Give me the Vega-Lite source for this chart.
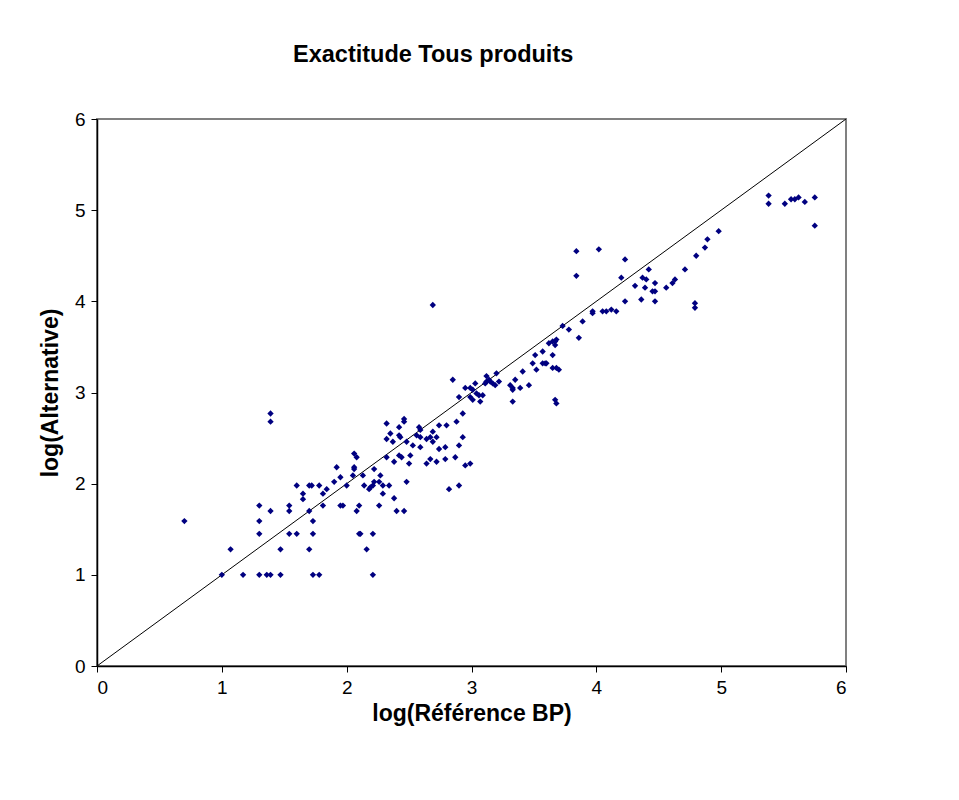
{
  "$schema": "https://vega.github.io/schema/vega-lite/v6.json",
  "autosize": {"type": "none"},
  "padding": {"left": 97, "top": 119, "right": 113, "bottom": 134},
  "width": 749,
  "height": 547,
  "background": "white",
  "title": {
    "text": "Exactitude Tous produits",
    "anchor": "start",
    "frame": "group",
    "dx": 196,
    "offset": 25,
    "baseline": "alphabetic",
    "font": "Liberation Sans",
    "fontSize": 23.5,
    "fontWeight": "bold",
    "color": "black"
  },
  "config": {
    "view": {"stroke": "#808080", "strokeWidth": 2},
    "axis": {
      "domainColor": "black",
      "domainWidth": 1.5,
      "tickColor": "black",
      "tickWidth": 1,
      "tickSize": 6,
      "grid": false,
      "labelFont": "Liberation Sans",
      "labelFontSize": 19,
      "labelColor": "black",
      "titleFont": "Liberation Sans",
      "titleFontSize": 23,
      "titleFontWeight": "bold",
      "titleColor": "black"
    }
  },
  "datasets": {
    "pts": [
      {"x":1.39,"y":2.77},{"x":1.39,"y":2.68},{"x":0.70,"y":1.59},{"x":1.00,"y":1.00},{"x":1.07,"y":1.28},{"x":1.17,"y":1.00},{"x":1.30,"y":1.76},{"x":1.30,"y":1.59},{"x":1.30,"y":1.45},{"x":1.30,"y":1.00},{"x":1.36,"y":1.00},{"x":1.39,"y":1.00},{"x":1.39,"y":1.70},{"x":1.47,"y":1.00},{"x":1.47,"y":1.28},{"x":1.54,"y":1.76},{"x":1.54,"y":1.70},{"x":1.54,"y":1.45},{"x":1.60,"y":1.98},{"x":1.60,"y":1.45},{"x":1.65,"y":1.89},{"x":1.65,"y":1.83},{"x":1.70,"y":1.98},{"x":1.72,"y":1.98},{"x":1.70,"y":1.70},{"x":1.70,"y":1.28},{"x":1.73,"y":1.59},{"x":1.73,"y":1.45},{"x":1.73,"y":1.00},{"x":1.78,"y":1.00},{"x":1.78,"y":1.98},{"x":1.81,"y":1.89},{"x":1.84,"y":1.94},{"x":1.81,"y":1.76},{"x":1.92,"y":2.18},{"x":1.90,"y":2.02},{"x":1.95,"y":2.07},{"x":1.95,"y":1.76},{"x":1.97,"y":1.76},{"x":2.00,"y":1.98},{"x":2.05,"y":2.09},{"x":2.06,"y":2.33},{"x":2.08,"y":2.29},{"x":2.06,"y":2.18},{"x":2.06,"y":2.16},{"x":2.08,"y":1.70},{"x":2.10,"y":1.45},{"x":2.10,"y":1.76},
      {"x":2.69,"y":3.96},{"x":2.13,"y":2.09},{"x":2.14,"y":1.98},{"x":2.18,"y":1.94},{"x":2.19,"y":1.96},{"x":2.22,"y":2.16},{"x":2.22,"y":2.02},{"x":2.26,"y":2.02},{"x":2.27,"y":2.09},{"x":2.21,"y":1.98},{"x":2.29,"y":1.98},{"x":2.29,"y":1.89},{"x":2.34,"y":1.98},{"x":2.32,"y":2.66},{"x":2.32,"y":2.49},{"x":2.32,"y":2.29},{"x":2.35,"y":2.55},{"x":2.37,"y":2.46},{"x":2.38,"y":2.24},{"x":2.38,"y":1.84},{"x":2.42,"y":2.62},{"x":2.42,"y":2.53},{"x":2.43,"y":2.51},{"x":2.42,"y":2.31},{"x":2.44,"y":2.29},{"x":2.46,"y":2.71},{"x":2.46,"y":2.68},{"x":2.48,"y":2.46},{"x":2.48,"y":2.02},{"x":2.50,"y":2.22},{"x":2.51,"y":2.31},{"x":2.53,"y":2.42},{"x":2.56,"y":2.53},{"x":2.58,"y":2.62},{"x":2.59,"y":2.59},{"x":2.59,"y":2.51},{"x":2.59,"y":2.40},{"x":2.64,"y":2.49},{"x":2.64,"y":2.22},{"x":2.67,"y":2.51},{"x":2.67,"y":2.27},{"x":2.69,"y":2.57},{"x":2.69,"y":2.46},{"x":2.72,"y":2.51},{"x":2.72,"y":2.24},{"x":2.74,"y":2.64},{"x":2.74,"y":2.38},{"x":2.79,"y":2.40},{"x":2.79,"y":2.27},{"x":2.80,"y":2.64},{"x":2.82,"y":1.94},{"x":2.85,"y":3.14},{"x":2.87,"y":2.29},{"x":2.88,"y":2.68},{"x":2.90,"y":2.95},{"x":2.90,"y":2.42},{"x":2.90,"y":1.98},{"x":2.93,"y":2.77},{"x":2.93,"y":2.51},{"x":2.95,"y":3.05},{"x":2.95,"y":2.20},{"x":2.99,"y":2.22},{"x":2.99,"y":3.05},{"x":3.01,"y":3.03},{"x":2.99,"y":2.95},{"x":3.01,"y":2.92},{"x":3.03,"y":3.10},{"x":3.04,"y":2.99},{"x":3.06,"y":2.97},{"x":3.07,"y":2.90},{"x":3.09,"y":2.97},{"x":3.11,"y":3.10},{"x":3.12,"y":3.18},{"x":3.14,"y":3.14},{"x":3.12,"y":3.12},{"x":3.15,"y":3.12},{"x":3.17,"y":3.10},{"x":3.19,"y":3.08},{"x":3.20,"y":3.21},{"x":3.22,"y":3.12},{"x":3.31,"y":3.08},{"x":3.33,"y":3.05},{"x":3.33,"y":3.03},{"x":3.33,"y":2.90},{"x":3.35,"y":3.14},{"x":3.39,"y":3.05},{"x":3.41,"y":3.23},{"x":3.46,"y":3.08},
      {"x":3.84,"y":4.55},{"x":4.02,"y":4.57},{"x":3.84,"y":4.28},{"x":4.23,"y":4.46},{"x":4.80,"y":4.50},{"x":4.71,"y":4.35},{"x":4.42,"y":4.35},{"x":4.37,"y":4.26},{"x":4.40,"y":4.24},{"x":4.47,"y":4.20},{"x":4.20,"y":4.26},{"x":4.31,"y":4.17},{"x":4.39,"y":4.15},{"x":4.45,"y":4.11},{"x":4.47,"y":4.11},{"x":4.36,"y":4.02},{"x":4.47,"y":4.00},{"x":4.23,"y":4.00},{"x":4.56,"y":4.15},{"x":4.61,"y":4.20},{"x":4.63,"y":4.24},{"x":4.79,"y":3.98},{"x":4.79,"y":3.93},{"x":3.97,"y":3.89},{"x":3.97,"y":3.87},{"x":4.05,"y":3.89},{"x":4.08,"y":3.89},{"x":4.12,"y":3.91},{"x":4.16,"y":3.89},{"x":3.89,"y":3.78},{"x":3.73,"y":3.73},{"x":3.78,"y":3.69},{"x":3.86,"y":3.60},{"x":3.68,"y":3.58},{"x":3.67,"y":3.56},{"x":3.67,"y":3.52},{"x":3.65,"y":3.56},{"x":3.62,"y":3.54},{"x":3.57,"y":3.45},{"x":3.51,"y":3.41},{"x":3.65,"y":3.41},{"x":3.49,"y":3.32},{"x":3.57,"y":3.32},{"x":3.59,"y":3.32},{"x":3.60,"y":3.32},{"x":3.52,"y":3.25},{"x":3.65,"y":3.27},{"x":3.68,"y":3.27},{"x":3.70,"y":3.25},{"x":3.67,"y":2.92},{"x":3.68,"y":2.88},
      {"x":4.89,"y":4.68},{"x":4.87,"y":4.59},{"x":4.98,"y":4.77},{"x":5.38,"y":5.16},{"x":5.38,"y":5.07},{"x":5.51,"y":5.07},{"x":5.56,"y":5.12},{"x":5.59,"y":5.12},{"x":5.62,"y":5.14},{"x":5.67,"y":5.09},{"x":5.75,"y":5.14},{"x":5.75,"y":4.83},
      {"x":2.26,"y":1.76},{"x":2.40,"y":1.70},{"x":2.46,"y":1.70},{"x":2.11,"y":1.45},{"x":2.21,"y":1.45},{"x":2.16,"y":1.28},{"x":2.21,"y":1.00}
    ],
    "diag": [{"x":0,"y":0},{"x":6,"y":6}]
  },
  "layer": [
    {
      "data": {"name": "diag"},
      "mark": {"type": "line", "color": "black", "strokeWidth": 1},
      "encoding": {
        "x": {"field": "x", "type": "quantitative"},
        "y": {"field": "y", "type": "quantitative"}
      }
    },
    {
      "data": {"name": "pts"},
      "mark": {"type": "point", "shape": "diamond", "filled": true, "color": "#000080", "opacity": 1, "size": 40},
      "encoding": {
        "x": {
          "field": "x", "type": "quantitative",
          "scale": {"domain": [0, 6], "nice": false, "zero": true},
          "axis": {"values": [0,1,2,3,4,5,6], "title": "log(Référence BP)", "labelPadding": 6, "titlePadding": 5, "format": "d"}
        },
        "y": {
          "field": "y", "type": "quantitative",
          "scale": {"domain": [0, 6], "nice": false, "zero": true},
          "axis": {"values": [0,1,2,3,4,5,6], "title": "log(Alternative)", "labelPadding": 6, "titlePadding": 12, "format": "d"}
        }
      }
    }
  ]
}
